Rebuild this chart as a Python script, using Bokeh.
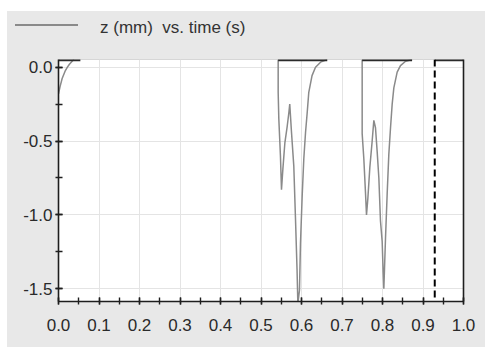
from bokeh.plotting import figure
from bokeh.models import (SingleIntervalTicker, PrintfTickFormatter, LinearAxis, FixedTicker,
                          Span, Range1d, Spacer, ColumnDataSource, Div)
from bokeh.layouts import column, row
from bokeh.embed import file_html
from bokeh.resources import INLINE

# ---- data ----
z_top = 0.052  # saturated (clipped) value at top of view

t_event1 = [0.0, 0.004, 0.009, 0.013, 0.017, 0.022, 0.027, 0.032, 0.038]
z_event1 = [-0.18, -0.13, -0.077, -0.05, -0.023, 0.0, 0.02, 0.035, 0.052]

t_event2 = [0.5424, 0.5424, 0.544, 0.548, 0.5506, 0.554, 0.559, 0.5647, 0.5687, 0.571,
            0.5753, 0.581, 0.585, 0.589, 0.591, 0.595, 0.5975, 0.6017, 0.6057, 0.61,
            0.614, 0.618, 0.626, 0.6346, 0.647, 0.6635]
z_event2 = [0.052, -0.17, -0.35, -0.60, -0.83, -0.69, -0.51, -0.40, -0.31, -0.25,
            -0.44, -0.67, -1.01, -1.37, -1.60, -1.51, -1.19, -0.87, -0.62, -0.44,
            -0.31, -0.17, -0.057, 0.0, 0.034, 0.052]

t_event3 = [0.7498, 0.7498, 0.7539, 0.758, 0.7605, 0.7638, 0.7687, 0.7745, 0.7786, 0.7827,
            0.7868, 0.791, 0.795, 0.7992, 0.8016, 0.8033, 0.805, 0.8074, 0.8115, 0.8156,
            0.8198, 0.8239, 0.828, 0.8362, 0.8444, 0.857, 0.873]
z_event3 = [0.052, -0.45, -0.62, -0.85, -1.0, -0.89, -0.68, -0.5, -0.36, -0.41,
            -0.57, -0.75, -1.04, -1.18, -1.39, -1.5, -1.36, -1.16, -0.86, -0.59,
            -0.41, -0.25, -0.14, -0.034, 0.011, 0.04, 0.052]

plateau_start = [0.0, 0.5424, 0.7498, 0.929]
plateau_end = [0.054, 0.6635, 0.873, 1.0]

cursor_time = 0.929

x_tick_interval = 0.1
y_tick_interval = 0.5
legend_text = "z (mm)  vs. time (s)"

FONT = "Liberation Sans"
GREY_BG = "#e8e8e8"
LINE_COLOR = "#8a8a8a"

# ---- legend strip above the plot ----
legend_html = (
    '<div style="position:relative;width:478px;height:37px;background:%s;">'
    '<div style="position:absolute;left:8px;top:13px;width:63px;height:2px;'
    'background:%s;"></div>'
    '<div style="position:absolute;left:93px;top:8px;line-height:1;white-space:pre;'
    "font-family:'%s';font-size:17px;color:#333333;\">%s</div>"
    '</div>' % (GREY_BG, LINE_COLOR, FONT, legend_text)
)
head = Div(text=legend_html, width=478, height=37, margin=0,
           styles={"background-color": GREY_BG, "padding": "0", "margin": "0"})

# ---- main plot ----
nan = float("nan")
t_all = t_event1 + [nan] + t_event2 + [nan] + t_event3
z_all = z_event1 + [nan] + z_event2 + [nan] + z_event3

p = figure(width=478, height=299, output_backend="svg", toolbar_location=None,
           x_range=Range1d(0.0, 1.0), y_range=Range1d(-1.586, z_top),
           min_border_left=51, min_border_right=22, min_border_top=11, min_border_bottom=46,
           border_fill_color=GREY_BG, background_fill_color="white",
           outline_line_color="#d6d6d6", outline_line_width=1)

for ax in (p.xaxis[0], p.yaxis[0]):
    ax.axis_line_color = "#1e1e1e"
    ax.axis_line_width = 1.6
    ax.major_tick_line_color = "#1e1e1e"
    ax.minor_tick_line_color = "#1e1e1e"
    ax.major_tick_line_width = 1.4
    ax.minor_tick_line_width = 1.4
    ax.major_tick_in = 4
    ax.major_tick_out = 3
    ax.minor_tick_in = 4
    ax.minor_tick_out = 3
    ax.major_label_text_font = FONT
    ax.major_label_text_font_size = "17px"
    ax.major_label_text_color = "#2a2a2a"
    ax.formatter = PrintfTickFormatter(format="%.1f")

p.xaxis[0].ticker = SingleIntervalTicker(interval=x_tick_interval, num_minor_ticks=2)
p.yaxis[0].ticker = SingleIntervalTicker(interval=y_tick_interval, num_minor_ticks=2)
p.xaxis[0].major_label_standoff = 14
p.yaxis[0].major_label_standoff = 3

p.xgrid.grid_line_color = "#e4e4e4"
p.ygrid.grid_line_color = "#e4e4e4"
p.xgrid.ticker = p.xaxis[0].ticker
p.ygrid.ticker = p.yaxis[0].ticker

right_axis = LinearAxis(ticker=FixedTicker(ticks=[]), major_tick_in=0, major_tick_out=0,
                        minor_tick_in=0, minor_tick_out=0, major_label_text_font_size="0px",
                        axis_line_color="#1e1e1e", axis_line_width=1.6)
p.add_layout(right_axis, "right")

r = p.line(t_all, z_all, line_color=LINE_COLOR, line_width=1.5)

src_top = ColumnDataSource(dict(x0=plateau_start, x1=plateau_end,
                                y=[z_top] * len(plateau_start)))
p.segment(x0="x0", y0="y", x1="x1", y1="y", source=src_top,
          line_color="#2a2a2a", line_width=3.5)

p.add_layout(Span(location=cursor_time, dimension="height", line_color="black",
                  line_width=2, line_dash="7 4"))

inner = column(head, p, spacing=0, styles={"background-color": GREY_BG})
layout = column(Spacer(height=11), row(Spacer(width=7), inner, spacing=0), spacing=0)
open("out.html", "w").write(file_html(layout, INLINE))
